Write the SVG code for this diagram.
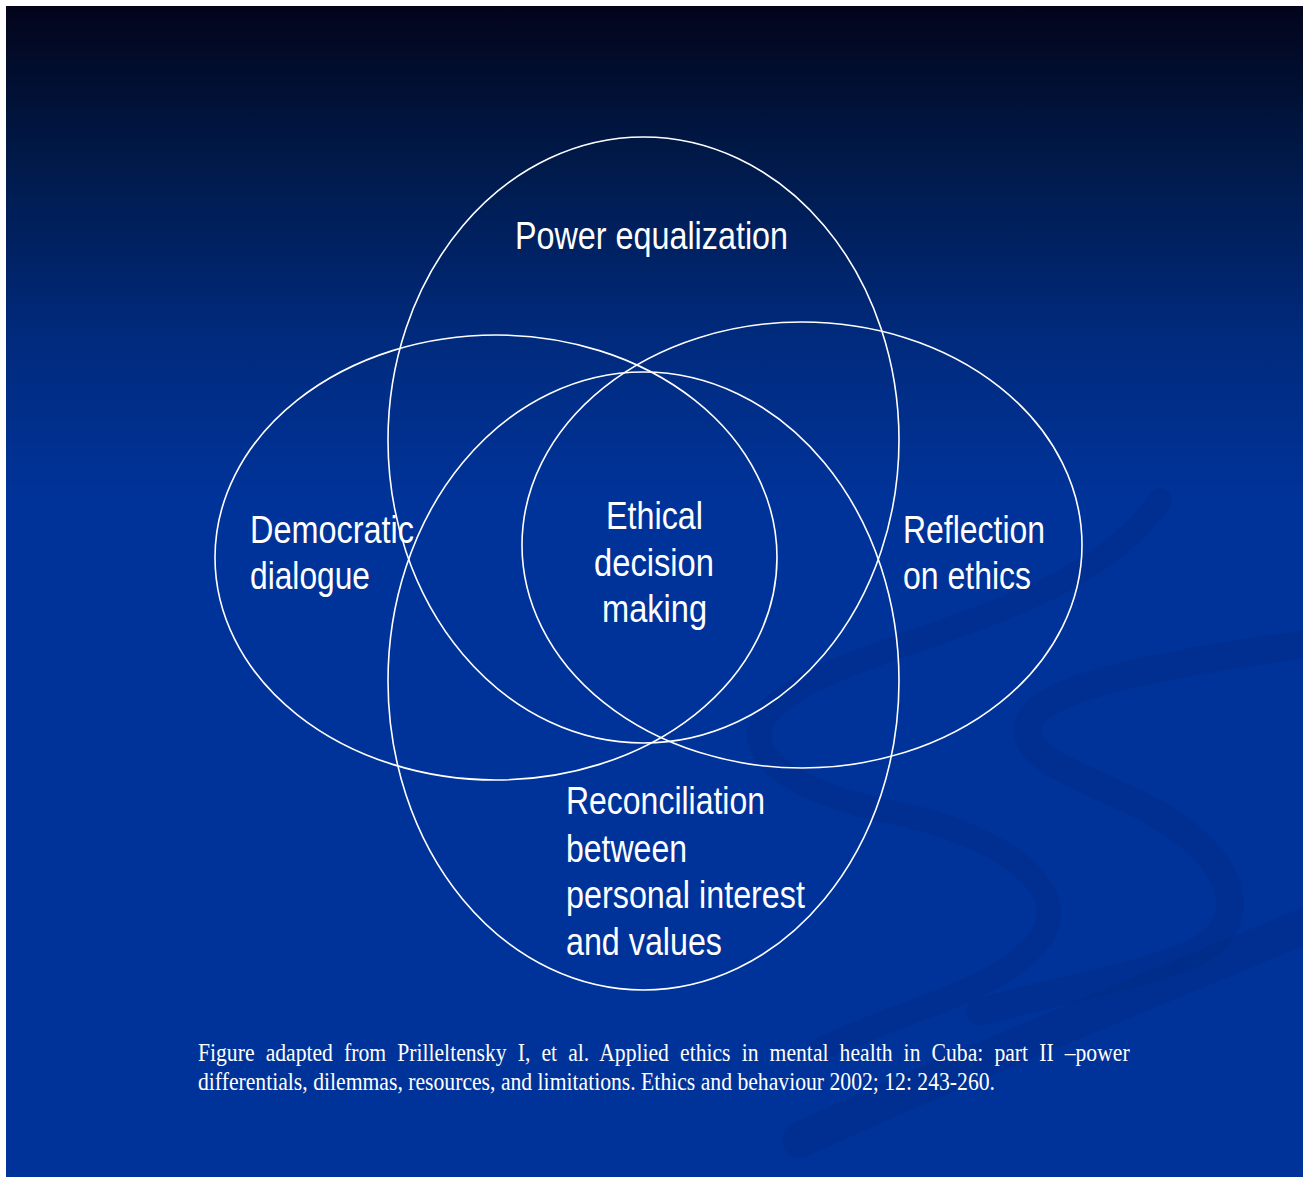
<svg xmlns="http://www.w3.org/2000/svg" width="1310" height="1178" viewBox="0 0 1310 1178">
  <defs>
    <linearGradient id="bg" gradientUnits="userSpaceOnUse" x1="0" y1="6" x2="0" y2="1177">
      <stop offset="0" stop-color="#03041a"/>
      <stop offset="0.12" stop-color="#001845"/>
      <stop offset="0.28" stop-color="#002a7c"/>
      <stop offset="0.42" stop-color="#003399"/>
      <stop offset="1" stop-color="#003399"/>
    </linearGradient>
    <clipPath id="slide">
      <rect x="6" y="6" width="1297" height="1171"/>
    </clipPath>
    <style>
      .ring { fill: none; stroke: #ffffff; stroke-width: 1.6; }
      .lbl { font-family: "Liberation Sans", Arial, sans-serif; font-size: 38px; fill: #ffffff; }
      .cap { font-family: "Liberation Serif", "Times New Roman", serif; font-size: 25px; fill: #ffffff; }
      .swirl { fill: none; stroke: #00226a; stroke-linecap: round; opacity: 0.16; }
    </style>
  </defs>

  <rect x="0" y="0" width="1310" height="1178" fill="#ffffff"/>
  <rect x="6" y="6" width="1297" height="1171" fill="url(#bg)"/>

  <g id="background-swirl" clip-path="url(#slide)">
    <path class="swirl" stroke-width="24" d="M 1160 500 C 1080 620, 850 640, 775 705 C 720 760, 820 800, 905 815 C 1010 840, 1080 895, 1035 945 C 990 995, 900 1010, 820 1050"/>
    <path class="swirl" stroke-width="28" d="M 1330 640 C 1200 660, 1050 680, 1030 720 C 1012 760, 1100 782, 1150 810 C 1240 860, 1250 920, 1200 950 C 1150 975, 1050 992, 980 1012"/>
    <path class="swirl" stroke-width="36" d="M 1330 915 C 1150 992, 950 1070, 800 1140"/>
  </g>

  <g id="circle-power">
    <ellipse class="ring" cx="643.5" cy="440" rx="255.5" ry="303"/>
    <text class="lbl" x="515" y="249" textLength="273" lengthAdjust="spacingAndGlyphs">Power equalization</text>
  </g>
  <g id="circle-democratic">
    <ellipse class="ring" cx="496" cy="557.5" rx="281" ry="222.5"/>
    <text class="lbl" x="250" y="543" textLength="164" lengthAdjust="spacingAndGlyphs">Democratic</text>
    <text class="lbl" x="250" y="589" textLength="120" lengthAdjust="spacingAndGlyphs">dialogue</text>
  </g>
  <g id="circle-reflection">
    <ellipse class="ring" cx="802" cy="545" rx="280" ry="223"/>
    <text class="lbl" x="903" y="543" textLength="142" lengthAdjust="spacingAndGlyphs">Reflection</text>
    <text class="lbl" x="903" y="589" textLength="128" lengthAdjust="spacingAndGlyphs">on ethics</text>
  </g>
  <g id="circle-reconciliation">
    <ellipse class="ring" cx="643.5" cy="681" rx="255.5" ry="309"/>
    <text class="lbl" x="566" y="814" textLength="199" lengthAdjust="spacingAndGlyphs">Reconciliation</text>
    <text class="lbl" x="566" y="862" textLength="121" lengthAdjust="spacingAndGlyphs">between</text>
    <text class="lbl" x="566" y="908" textLength="239" lengthAdjust="spacingAndGlyphs">personal interest</text>
    <text class="lbl" x="566" y="955" textLength="156" lengthAdjust="spacingAndGlyphs">and values</text>
  </g>
  <g id="center-ethical">
    <text class="lbl" x="606" y="529" textLength="97" lengthAdjust="spacingAndGlyphs">Ethical</text>
    <text class="lbl" x="594" y="576" textLength="120" lengthAdjust="spacingAndGlyphs">decision</text>
    <text class="lbl" x="602" y="622" textLength="105" lengthAdjust="spacingAndGlyphs">making</text>
  </g>

  <g id="connectors"/>

  <g id="caption">
    <text class="cap" transform="translate(198,1061) scale(0.866,1)" word-spacing="6.6">Figure adapted from Prilleltensky I, et al. Applied ethics in mental health in Cuba: part II –power</text>
    <text class="cap" x="198" y="1090" textLength="797" lengthAdjust="spacingAndGlyphs">differentials, dilemmas, resources, and limitations. Ethics and behaviour 2002; 12: 243-260.</text>
  </g>
</svg>
